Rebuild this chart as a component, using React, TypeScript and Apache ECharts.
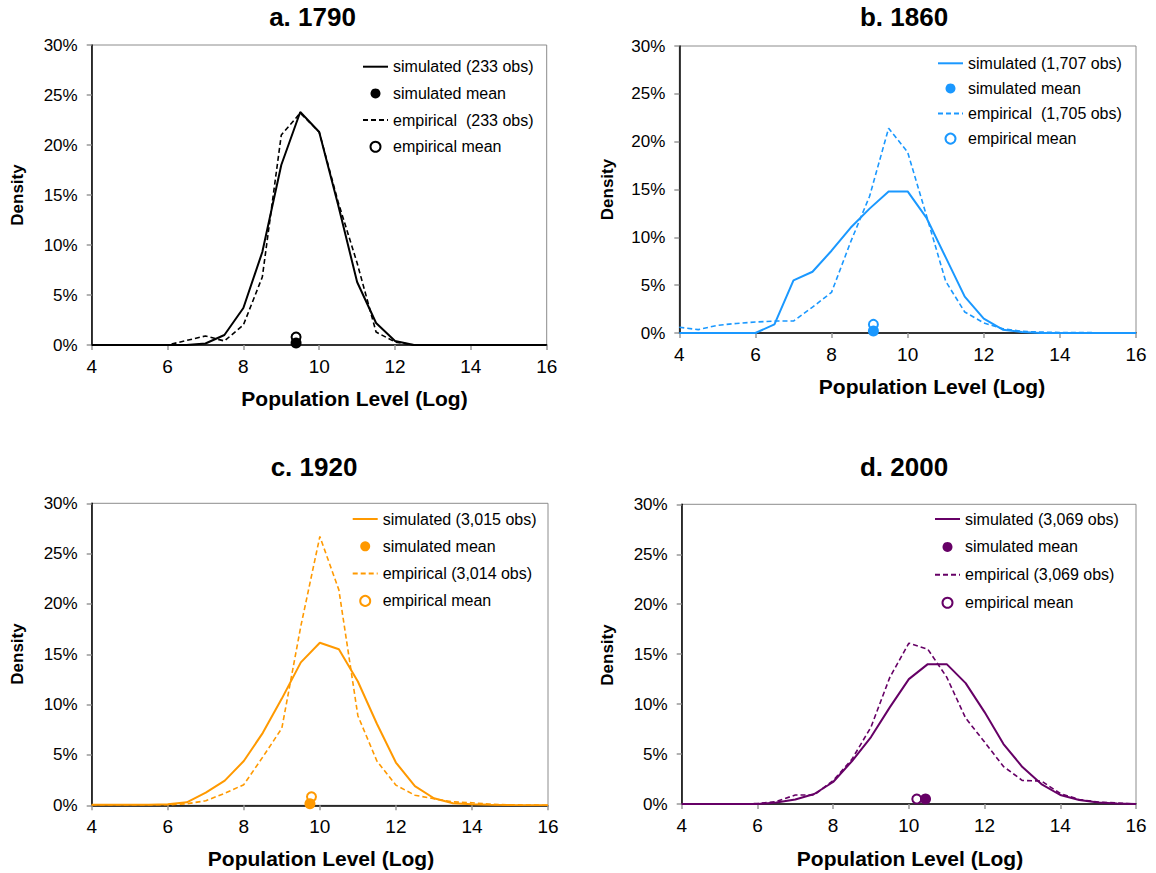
import React, { useEffect, useRef } from "react";
import * as echarts from "echarts";

const FONT = "'Liberation Sans', Arial, Helvetica, sans-serif";

// Bin centres (log population level)
const xs = [4, 4.5, 5, 5.5, 6, 6.5, 7, 7.5, 8, 8.5, 9, 9.5, 10, 10.5, 11, 11.5, 12, 12.5, 13, 13.5, 14, 14.5, 15, 15.5, 16];

// Densities in percent
const sim1790 = [0, 0, 0, 0, 0, 0, 0.15, 1.0, 3.7, 9.3, 18.0, 23.3, 21.3, 14.0, 6.3, 2.2, 0.4, 0, 0, 0, 0, 0, 0, 0, 0];
const emp1790 = [0, 0, 0, 0, 0, 0.45, 0.9, 0.4, 2.0, 6.8, 21.0, 23.2, 21.3, 14.3, 8.2, 1.3, 0.3, 0, 0, 0, 0, 0, 0, 0, 0];
const sim1860 = [0, 0, 0, 0, 0, 0.9, 5.5, 6.4, 8.6, 11.0, 13.0, 14.8, 14.8, 12.0, 7.9, 3.8, 1.5, 0.35, 0.1, 0, 0, 0, 0, 0, 0];
const emp1860 = [0.6, 0.35, 0.8, 1.0, 1.15, 1.25, 1.25, 2.7, 4.25, 9.5, 14.3, 21.4, 18.9, 12.2, 5.4, 2.2, 1.05, 0.45, 0.17, 0.1, 0.05, 0.05, 0.03, 0.02, 0];
const sim1920 = [0.05, 0.05, 0.05, 0.05, 0.1, 0.3, 1.25, 2.45, 4.4, 7.2, 10.6, 14.2, 16.15, 15.5, 12.3, 8.1, 4.25, 1.9, 0.7, 0.2, 0.1, 0.05, 0.02, 0, 0];
const emp1920 = [0.05, 0.05, 0.05, 0.05, 0.05, 0.15, 0.45, 1.2, 2.05, 4.8, 7.65, 17.8, 26.7, 21.4, 8.9, 4.4, 2.0, 1.0, 0.65, 0.35, 0.25, 0.1, 0.05, 0.03, 0];
const sim2000 = [0, 0, 0, 0, 0, 0.15, 0.45, 1.0, 2.2, 4.3, 6.7, 9.7, 12.5, 14.0, 14.0, 12.1, 9.2, 6.0, 3.7, 2.0, 0.9, 0.4, 0.15, 0.05, 0];
const emp2000 = [0, 0, 0, 0, 0.05, 0.25, 0.9, 0.9, 2.35, 4.5, 7.7, 12.7, 16.1, 15.5, 12.7, 8.6, 6.2, 3.75, 2.35, 2.3, 1.05, 0.45, 0.2, 0.1, 0];

// Means: [x, y%]
const simMean1790 = [9.39, 0.2];
const empMean1790 = [9.39, 0.8];
const simMean1860 = [9.1, 0.2];
const empMean1860 = [9.1, 0.9];
const simMean1920 = [9.74, 0.15];
const empMean1920 = [9.78, 0.85];
const simMean2000 = [10.44, 0.5];
const empMean2000 = [10.21, 0.5];

const titles = ["a. 1790", "b. 1860", "c. 1920", "d. 2000"];
const simNames = ["simulated (233 obs)", "simulated (1,707 obs)", "simulated (3,015 obs)", "simulated (3,069 obs)"];
const empNames = ["empirical  (233 obs)", "empirical  (1,705 obs)", "empirical (3,014 obs)", "empirical (3,069 obs)"];
const colors = ["#000000", "#1a98ff", "#ff9900", "#660066"];

const xTicks = { min: 4, max: 16, interval: 2 };
const yTicks = { min: 0, max: 30, interval: 5 };

type Layout = {
  box: [number, number, number, number];
  grid: [number, number, number, number];
  title: [number, number];
  xname: [number, number];
  yname: [number, number];
  legend: [number, number, number];
};

const layouts: Layout[] = [
  { box: [0, 0, 578, 436], grid: [91.7, 45, 455, 300], title: [312.5, 17], xname: [354.5, 398], yname: [17.5, 195], legend: [362, 57.7, 8.7] },
  { box: [578, 0, 578, 436], grid: [101.3, 46, 456.7, 287], title: [326, 17], xname: [354, 386], yname: [29, 189.5], legend: [359, 54.3, 7.1] },
  { box: [0, 436, 578, 437], grid: [91.7, 67.3, 456.3, 302], title: [314, 31], xname: [321, 422], yname: [17.5, 218], legend: [351.7, 74, 9.3] },
  { box: [578, 436, 578, 437], grid: [103.7, 68.3, 454.3, 299.7], title: [326, 31], xname: [332, 422], yname: [29, 219], legend: [356, 74, 9.9] },
];

const sims = [sim1790, sim1860, sim1920, sim2000];
const emps = [emp1790, emp1860, emp1920, emp2000];
const simMeans = [simMean1790, simMean1860, simMean1920, simMean2000];
const empMeans = [empMean1790, empMean1860, empMean1920, empMean2000];

function buildOption(i: number) {
  const L = layouts[i];
  const c = colors[i];
  const [gl, gt, gw, gh] = L.grid;
  const hidden = { color: "rgba(0,0,0,0)", borderColor: "rgba(0,0,0,0)", borderWidth: 0, opacity: 0 };
  return {
    animation: false,
    textStyle: { fontFamily: FONT },
    grid: {
      left: gl,
      top: gt,
      width: gw,
      height: gh,
      show: true,
      borderColor: "#8c8c8c",
      borderWidth: 1,
      backgroundColor: "transparent",
    },
    xAxis: {
      type: "value",
      min: xTicks.min,
      max: xTicks.max,
      interval: xTicks.interval,
      splitLine: { show: false },
      axisLine: { show: true, onZero: false, lineStyle: { color: "#000", width: 1.5 } },
      axisTick: { show: true, length: 5, lineStyle: { color: "#999", width: 1.5 } },
      axisLabel: { fontSize: 19, color: "#000", margin: 12, fontFamily: FONT },
    },
    yAxis: {
      type: "value",
      min: yTicks.min,
      max: yTicks.max,
      interval: yTicks.interval,
      splitLine: { show: false },
      axisLine: { show: true, lineStyle: { color: "#000", width: 1.5 } },
      axisTick: { show: true, length: 5, lineStyle: { color: "#999", width: 1.5 } },
      axisLabel: { fontSize: 17, color: "#000", margin: 14, fontFamily: FONT, formatter: "{value}%" },
    },
    legend: {
      orient: "vertical",
      left: L.legend[0],
      top: L.legend[1],
      itemGap: L.legend[2],
      itemWidth: 25,
      itemHeight: 10,
      padding: 0,
      textStyle: { fontSize: 16, color: "#000", fontFamily: FONT, lineHeight: 18 },
      data: [
        { name: simNames[i], itemStyle: hidden },
        { name: "simulated mean", icon: "circle", itemStyle: { color: c, opacity: 1 } },
        { name: empNames[i], itemStyle: hidden },
        { name: "empirical mean", icon: "circle", itemStyle: { color: "#fff", borderColor: c, borderWidth: 2, opacity: 1 } },
      ],
    },
    graphic: [
      {
        type: "text",
        x: L.title[0],
        y: L.title[1],
        style: { text: titles[i], fill: "#000", font: `bold 26px ${FONT}`, align: "center", verticalAlign: "middle" },
      },
      {
        type: "text",
        x: L.xname[0],
        y: L.xname[1],
        style: { text: "Population Level (Log)", fill: "#000", font: `bold 21px ${FONT}`, align: "center", verticalAlign: "middle" },
      },
      {
        type: "text",
        x: L.yname[0],
        y: L.yname[1],
        rotation: Math.PI / 2,
        style: { text: "Density", fill: "#000", font: `bold 17px ${FONT}`, align: "center", verticalAlign: "middle" },
      },
    ],
    series: [
      {
        name: empNames[i],
        type: "line",
        symbol: "none",
        data: xs.map((x, k) => [x, emps[i][k]]),
        lineStyle: { color: c, width: 1.6, type: [5, 3] },
        itemStyle: { color: c },
      },
      {
        name: simNames[i],
        type: "line",
        symbol: "none",
        data: xs.map((x, k) => [x, sims[i][k]]),
        lineStyle: { color: c, width: 2 },
        itemStyle: { color: c },
      },
      {
        name: "empirical mean",
        type: "scatter",
        symbol: "circle",
        symbolSize: 9,
        data: [empMeans[i]],
        itemStyle: { color: "#fff", borderColor: c, borderWidth: 2, opacity: 1 },
      },
      {
        name: "simulated mean",
        type: "scatter",
        symbol: "circle",
        symbolSize: 11,
        data: [simMeans[i]],
        itemStyle: { color: c, opacity: 1 },
      },
    ],
  };
}

function Panel({ index }: { index: number }) {
  const ref = useRef<HTMLDivElement | null>(null);
  useEffect(() => {
    if (!ref.current) return;
    const chart = echarts.init(ref.current, undefined, { renderer: "svg" });
    chart.setOption(buildOption(index) as any);
    return () => chart.dispose();
  }, [index]);
  const [l, t, w, h] = layouts[index].box;
  return <div ref={ref} style={{ position: "absolute", left: l, top: t, width: w, height: h }} />;
}

export default function App() {
  return (
    <div style={{ position: "fixed", left: 0, top: 0, width: 1156, height: 873, background: "#fff" }}>
      {[0, 1, 2, 3].map((i) => (
        <Panel key={i} index={i} />
      ))}
    </div>
  );
}
